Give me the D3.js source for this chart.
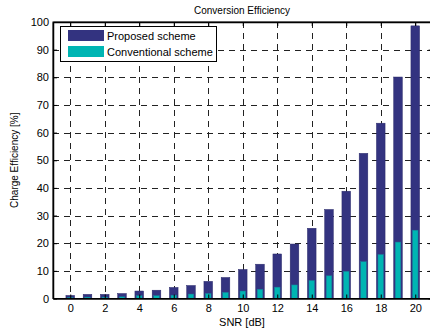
<!DOCTYPE html>
<html>
<head>
<meta charset="utf-8">
<script src="https://cdn.jsdelivr.net/npm/d3@7"></script>
<style>
  body { margin: 0; background: #fff; }
  svg { display: block; font-family: "Liberation Sans", Arial, sans-serif; }
</style>
</head>
<body>
<svg></svg>
<script>
// data
const snr = d3.range(0, 21);
const proposed = [1.1, 1.5, 1.5, 1.8, 2.7, 3.0, 4.0, 4.7, 6.2, 7.6, 10.5, 12.4, 16.1, 19.7, 25.4, 32.2, 38.8, 52.5, 63.4, 80.1, 98.6];
const conventional = [0.4, 0.5, 0.5, 0.6, 1.0, 1.0, 1.2, 1.6, 1.8, 2.2, 2.7, 3.3, 4.1, 4.9, 6.5, 8.2, 9.8, 13.3, 15.9, 20.4, 24.7];
const xTicks = [0, 2, 4, 6, 8, 10, 12, 14, 16, 18, 20];
const yTicks = [0, 10, 20, 30, 40, 50, 60, 70, 80, 90, 100];
const seriesNames = ["Proposed scheme", "Conventional scheme"];
const colors = ["#333380", "#00b5b3"];

const width = 430, height = 331;
const plotLeft = 53, plotTop = 22, plotRight = 432.5, plotBottom = 298.5;

const svg = d3.select("svg")
    .attr("width", width)
    .attr("height", height);

const x = d3.scaleLinear().domain([-1, 21]).range([plotLeft, plotRight]);
const y = d3.scaleLinear().domain([0, 100]).range([plotBottom, plotTop]);

// grid
const grid = svg.append("g").attr("class", "grid")
    .attr("stroke", "#222")
    .attr("stroke-width", 1)
    .attr("stroke-dasharray", "6,5");

grid.selectAll("line.v")
    .data(xTicks)
    .enter()
    .append("line")
    .attr("x1", d => Math.round(x(d)) + 0.5)
    .attr("x2", d => Math.round(x(d)) + 0.5)
    .attr("y1", plotTop)
    .attr("y2", plotBottom);

grid.selectAll("line.h")
    .data(yTicks.slice(1, -1))
    .enter()
    .append("line")
    .attr("x1", plotLeft)
    .attr("x2", plotRight)
    .attr("y1", d => Math.round(y(d)) + 0.5)
    .attr("y2", d => Math.round(y(d)) + 0.5);

// bars
const bw1 = x(0.5) - x(0);
const bw2 = x(0.32) - x(0);

svg.append("g").attr("class", "proposed")
    .selectAll("rect")
    .data(snr)
    .enter()
    .append("rect")
    .attr("x", d => x(d) - bw1 / 2)
    .attr("width", bw1)
    .attr("y", (d, i) => y(proposed[i]))
    .attr("height", (d, i) => y(0) - y(proposed[i]))
    .attr("fill", colors[0])
    .attr("stroke", "#2a2a6a")
    .attr("stroke-width", 0.5);

svg.append("g").attr("class", "conventional")
    .selectAll("rect")
    .data(snr)
    .enter()
    .append("rect")
    .attr("x", d => x(d) - bw2 / 2)
    .attr("width", bw2)
    .attr("y", (d, i) => y(conventional[i]))
    .attr("height", (d, i) => y(0) - y(conventional[i]))
    .attr("fill", colors[1])
    .attr("stroke", "#1a7f9a")
    .attr("stroke-width", 0.5);

// frame and axes
svg.append("rect")
    .attr("x", plotLeft)
    .attr("y", plotTop)
    .attr("width", plotRight - plotLeft)
    .attr("height", plotBottom - plotTop)
    .attr("fill", "none")
    .attr("stroke", "#000")
    .attr("stroke-width", 1);

const xAxis = svg.append("g")
    .attr("transform", `translate(0 ${plotBottom})`)
    .call(d3.axisBottom(x).tickValues(xTicks).tickSizeInner(-4).tickSizeOuter(0).tickPadding(6));
const xAxisTop = svg.append("g")
    .attr("transform", `translate(0 ${plotTop})`)
    .call(d3.axisTop(x).tickValues(xTicks).tickSizeInner(-4).tickSizeOuter(0).tickFormat(""));
const yAxis = svg.append("g")
    .attr("transform", `translate(${plotLeft} 0)`)
    .call(d3.axisLeft(y).tickValues(yTicks).tickSizeInner(-4).tickSizeOuter(0).tickPadding(4));
const yAxisRight = svg.append("g")
    .attr("transform", `translate(${plotRight} 0)`)
    .call(d3.axisRight(y).tickValues(yTicks).tickSizeInner(-4).tickSizeOuter(0).tickFormat(""));

[xAxis, xAxisTop, yAxis, yAxisRight].forEach(a => {
    a.select(".domain").attr("stroke-width", 1.5);
    a.selectAll("text").attr("font-family", "Liberation Sans, Arial, sans-serif")
        .attr("font-size", 11).attr("fill", "#000");
});

// labels
svg.append("text")
    .attr("x", 242)
    .attr("y", 14)
    .attr("text-anchor", "middle")
    .attr("font-size", 10)
    .text("Conversion Efficiency");

svg.append("text")
    .attr("x", 242)
    .attr("y", 326)
    .attr("text-anchor", "middle")
    .attr("font-size", 11)
    .text("SNR [dB]");

svg.append("text")
    .attr("transform", `translate(18 ${(plotTop + plotBottom) / 2}) rotate(-90)`)
    .attr("text-anchor", "middle")
    .attr("font-size", 10)
    .text("Charge Efficiency [%]");

// legend
const legend = svg.append("g").attr("class", "legend");
legend.append("rect")
    .attr("x", 60.5)
    .attr("y", 26.5)
    .attr("width", 156)
    .attr("height", 35)
    .attr("fill", "#fff")
    .attr("stroke", "#000")
    .attr("stroke-width", 1);

const items = legend.selectAll("g.item")
    .data(seriesNames)
    .enter()
    .append("g")
    .attr("transform", (d, i) => `translate(0 ${i * 16})`);

items.append("rect")
    .attr("x", 68)
    .attr("y", 30)
    .attr("width", 36)
    .attr("height", 11)
    .attr("fill", (d, i) => colors[i]);

items.append("text")
    .attr("x", 107)
    .attr("y", 40)
    .attr("font-size", 11)
    .text(d => d);
</script>
</body>
</html>
